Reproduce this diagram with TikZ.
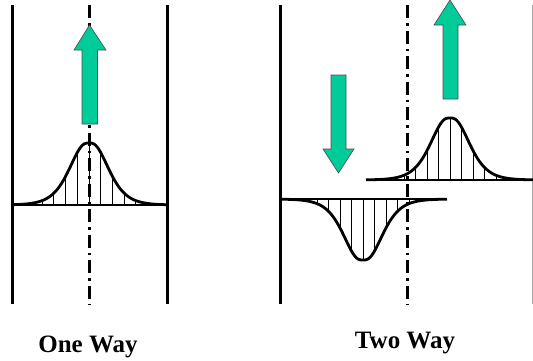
\documentclass[tikz,border=0pt]{standalone}
\usepackage{fontspec}
\setmainfont{Liberation Serif}
\definecolor{arrowgreen}{RGB}{0,204,153}
\begin{document}
\begin{tikzpicture}[x=1pt,y=1pt,
  declare function={bellf(\t)=1/(cosh((sqrt(\t*\t+9)-3)/22)^2);},
  wall/.style={line width=3pt},
  thinwall/.style={line width=1pt, gray!70},
  axisline/.style={line width=3pt, dash pattern=on 13pt off 5pt on 2.5pt off 5pt},
  bell/.style={line width=2.8pt, line join=round},
  hatch/.style={line width=1pt},
  fatarrow/.style={fill=arrowgreen, draw=black!70, line width=0.6pt, line join=miter},
  caption/.style={font=\fontsize{25}{30}\selectfont\bfseries, anchor=base, inner sep=0pt}]
\useasboundingbox (0,0) rectangle (533,360);

% ---------- One Way ----------
\draw[wall] (12,355) -- (12,56);
\draw[wall] (167,355) -- (167,56);
\draw[axisline] (89,355) -- (89,55);
\foreach \d in {-46.8,-35.1,-23.4,-11.7,0,11.7,23.4,35.1,46.8}
  \draw[hatch] (89+\d,155) -- (89+\d,{155+62*bellf(\d)});
\draw[bell] (13,155) -- (167,155);
\draw[bell] plot[domain=-76:78, samples=100, smooth] ({89+\x},{155+62*bellf(\x)});
\draw[fatarrow] (82,236) -- (82,310) -- (74,310) -- (89.5,335) -- (106,310) -- (97.5,310) -- (97.5,236) -- cycle;
\node[caption] (oneway) at (88,8) {One Way};

% ---------- Two Way ----------
\draw[wall] (280,355) -- (280,56);
\draw[thinwall] (532,355) -- (532,56);
\draw[axisline] (407,355) -- (407,55);
% upper bell
\foreach \d in {-46,-34.5,-23,-11.5,0,11.5,23,34.5,46}
  \draw[hatch] (450+\d,180) -- (450+\d,{180+62*bellf(\d)});
\draw[bell] (366,180) -- (533,180);
\draw[bell] plot[domain=-84:83, samples=110, smooth] ({450+\x},{180+62*bellf(\x)});
% lower bell
\foreach \d in {-46,-34.5,-23,-11.5,0,11.5,23,34.5,46}
  \draw[hatch] (363+\d,161) -- (363+\d,{161-61*bellf(\d)});
\draw[bell] (281,161) -- (447,161);
\draw[bell] plot[domain=-82:84, samples=110, smooth] ({363+\x},{161-61*bellf(\x)});
% arrows
\draw[fatarrow] (331,285) -- (331,211) -- (323,211) -- (338.5,187) -- (354,211) -- (346,211) -- (346,285) -- cycle;
\draw[fatarrow] (443,261) -- (443,335) -- (434,335) -- (450,360) -- (466,335) -- (458,335) -- (458,261) -- cycle;
\node[caption] (twoway) at (405,12) {Two Way};
\end{tikzpicture}
\end{document}
